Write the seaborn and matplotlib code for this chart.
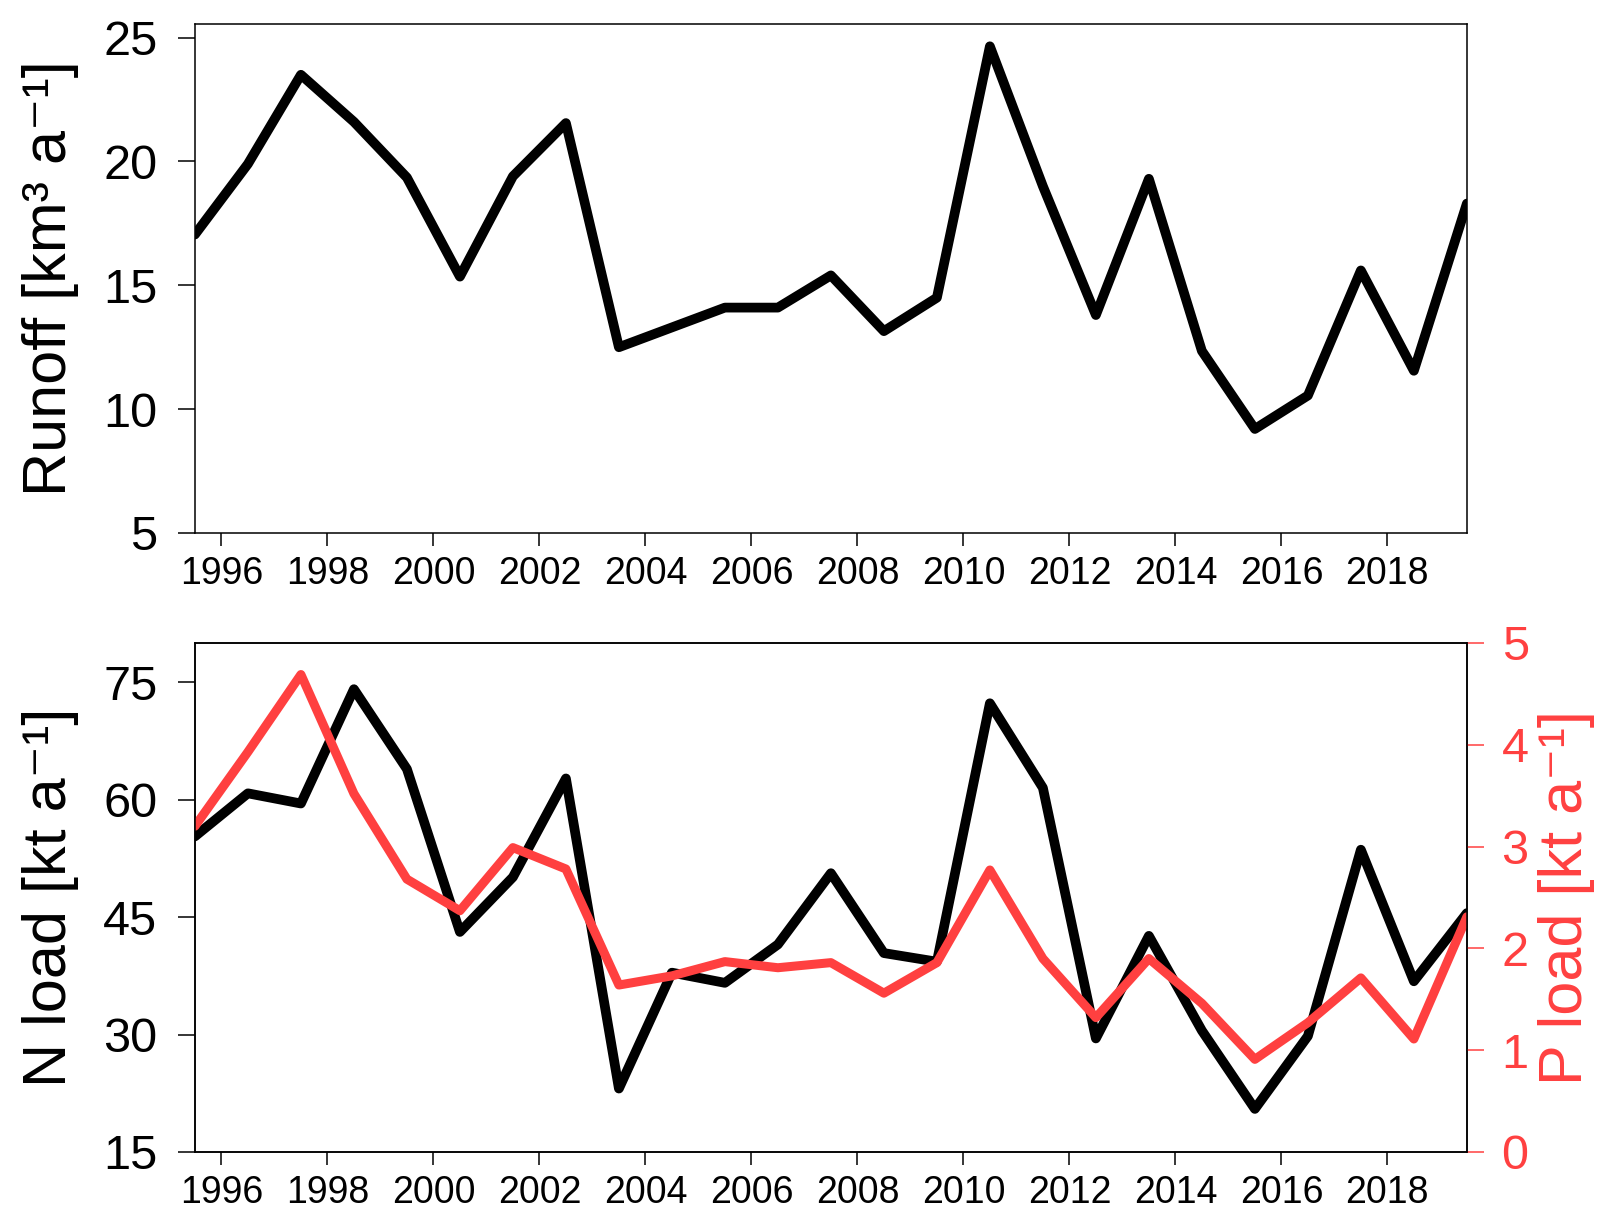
import numpy as np
import pandas as pd
import matplotlib
matplotlib.use('Agg')
import matplotlib.pyplot as plt
import seaborn as sns

# data, one value per year (plotted at mid-year)
years = list(range(1995, 2020))
runoff = [17.05, 19.9, 23.5, 21.6, 19.35, 15.35, 19.4, 21.55, 12.5, 13.3, 14.1, 14.1,
          15.4, 13.15, 14.5, 24.65, 19.0, 13.8, 19.3, 12.35, 9.2, 10.55, 15.6, 11.55, 18.3]
n_load = [55.3, 60.8, 59.5, 74.1, 63.9, 43.1, 50.1, 62.7, 23.1, 37.9, 36.6, 41.5,
          50.6, 40.4, 39.3, 72.3, 61.5, 29.5, 42.6, 30.5, 20.5, 29.8, 53.6, 36.8, 45.5]
p_load = [3.2, 3.93, 4.69, 3.52, 2.68, 2.37, 2.99, 2.78, 1.64, 1.73, 1.87, 1.81,
          1.86, 1.56, 1.86, 2.77, 1.9, 1.32, 1.9, 1.46, 0.91, 1.27, 1.71, 1.11, 2.31]
xticks = list(range(1996, 2019, 2))

df = pd.DataFrame({'year': np.array(years) + 0.5, 'runoff': runoff,
                   'N': n_load, 'P': p_load})

sns.set_style('ticks')
plt.rcParams['font.family'] = ['Liberation Sans', 'DejaVu Sans']
plt.rcParams['axes.linewidth'] = 1.1
for k in ('text.color', 'axes.labelcolor', 'xtick.color', 'ytick.color', 'axes.edgecolor'):
    plt.rcParams[k] = 'black'

red = '#FF4040'

fig = plt.figure(figsize=(16.23, 12.18), dpi=100)
ax1 = fig.add_axes([0.1201, 0.5624, 0.7837, 0.4179])
ax2 = fig.add_axes([0.1201, 0.0542, 0.7837, 0.4179])

line_kw = dict(solid_joinstyle='round', solid_capstyle='round')

sns.lineplot(data=df, x='year', y='runoff', ax=ax1, color='black', linewidth=7, **line_kw)
sns.lineplot(data=df, x='year', y='N', ax=ax2, color='black', linewidth=7, **line_kw)
ax3 = ax2.twinx()
sns.lineplot(data=df, x='year', y='P', ax=ax3, color=red, linewidth=6.5, **line_kw)

for ax in (ax1, ax2):
    ax.set_xlim(1995.5, 2019.5)
    ax.set_xticks(xticks)
    ax.set_xlabel('')
    ax.tick_params(axis='x', labelsize=27, length=9.5, width=1.1, pad=7, direction='out')
    ax.tick_params(axis='y', labelsize=35, length=12, width=1.1, pad=15, direction='out')
    for s in ax.spines.values():
        s.set_visible(True)
        s.set_color('black')

ax1.set_ylim(5, 25.55)
ax1.set_yticks([5, 10, 15, 20, 25])
ax1.set_ylabel('Runoff [km³ a⁻¹]', fontsize=44)
ax1.yaxis.set_label_coords(-0.091, 0.5)

ax2.set_ylim(15, 80)
ax2.set_yticks([15, 30, 45, 60, 75])
ax2.set_ylabel('N load [kt a⁻¹]', fontsize=44)
ax2.yaxis.set_label_coords(-0.091, 0.5)

ax3.set_ylim(0, 5)
ax3.set_yticks([0, 1, 2, 3, 4, 5])
ax3.set_xlim(1995.5, 2019.5)
ax3.tick_params(axis='y', labelsize=35, length=12, width=1.1, pad=13,
                colors=red, direction='out')
ax3.spines['right'].set_color('black')
ax3.set_ylabel('P load [kt a⁻¹]', fontsize=44, color=red)
ax3.yaxis.set_label_coords(1.056, 0.5)

fig.savefig('out.png', dpi=100)
